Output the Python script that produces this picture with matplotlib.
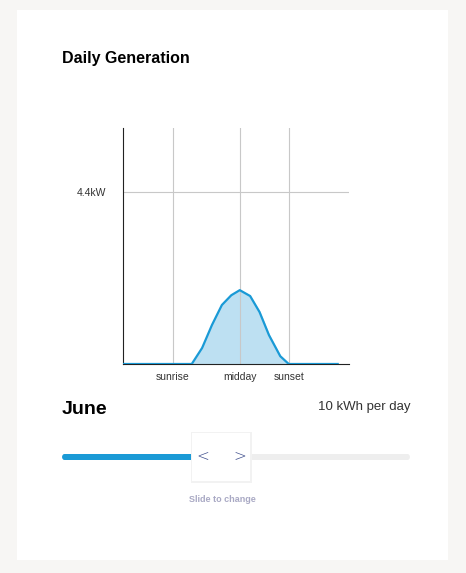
import matplotlib.pyplot as plt
from matplotlib.patches import Rectangle, FancyBboxPatch

plt.rcParams['font.family'] = ['Liberation Sans', 'DejaVu Sans']

# hours of day vs generated power (kW)
hours = [0, 7.3, 8.4, 9.45, 10.5, 11.5, 12.4, 13.5, 14.5, 15.5, 16.7, 17.6, 22.8]
power = [0, 0, 0.41, 1.0, 1.51, 1.76, 1.89, 1.74, 1.33, 0.74, 0.2, 0, 0]
tick_pos = [5.3, 12.4, 17.6]
tick_labels = ['sunrise', 'midday', 'sunset']
month = 'June'
daily_kwh = 10
slider_frac = 0.38

W, H = 466, 573
fig = plt.figure(figsize=(W / 100, H / 100), dpi=100)
fig.patch.set_facecolor('#f7f6f4')

def fx(x):
    return x / W

def fy(y):
    return 1 - y / H

# white card
fig.patches.append(Rectangle((fx(17), fy(560)), fx(448 - 17), (560 - 10) / H,
                             transform=fig.transFigure, facecolor='white', edgecolor='none',
                             zorder=0))

fig.text(fx(62), fy(58), 'Daily Generation', fontsize=11.5, fontweight='bold', va='center')

ax = fig.add_axes([fx(123), fy(364), fx(349 - 123), (364 - 128) / H])
ax.set_zorder(5)
ax.set_facecolor('white')
ax.set_xlim(0, 24)
ax.set_ylim(0, 6.04)
ax.fill_between(hours, power, color='#bde0f2', zorder=1)
ax.plot(hours, power, color='#1a9ad6', lw=1.6, zorder=3)
for t in tick_pos:
    ax.axvline(t, color='#c8c8c8', lw=0.8, zorder=2)
ax.axhline(4.4, color='#c8c8c8', lw=0.8, zorder=2)
ax.set_xticks(tick_pos)
ax.set_xticklabels(tick_labels, fontsize=7.5, color='#333333')
ax.set_yticks([4.4])
ax.set_yticklabels(['4.4kW'], fontsize=7.5, color='#333333')
ax.tick_params(length=0, pad=6)
ax.tick_params(axis='y', pad=12)
for s in ['top', 'right']:
    ax.spines[s].set_visible(False)
for s in ['left', 'bottom']:
    ax.spines[s].set_color('#222222')
    ax.spines[s].set_linewidth(0.8)

fig.text(fx(62), fy(409), month, fontsize=14, fontweight='bold', va='center')
fig.text(fx(410), fy(407), f'{daily_kwh} kWh per day', fontsize=9.5, color='#333333',
         va='center', ha='right')

# slider
x0, x1 = 62, 410
xk = x0 + slider_frac * (x1 - x0)
fig.patches.append(FancyBboxPatch((fx(x0), fy(460)), fx(x1 - x0), 6 / H,
                                  boxstyle='round,pad=0,rounding_size=0.006',
                                  transform=fig.transFigure, facecolor='#eeeeee', edgecolor='none'))
fig.patches.append(FancyBboxPatch((fx(x0), fy(460)), fx(xk - x0), 6 / H,
                                  boxstyle='round,pad=0,rounding_size=0.006',
                                  transform=fig.transFigure, facecolor='#1a9ad6', edgecolor='none'))
fig.patches.append(Rectangle((fx(xk - 3.5), fy(482.5)), fx(61), 51 / H,
                             transform=fig.transFigure, facecolor='#f2f2f2', edgecolor='none'))
fig.patches.append(Rectangle((fx(xk - 2), fy(481)), fx(58), 48 / H,
                             transform=fig.transFigure, facecolor='white', edgecolor='none'))
fig.text(fx(xk + 9), fy(457), '<', fontsize=11, color='#3a4a8a', ha='center', va='center',
         family='DejaVu Sans', fontweight='light')
fig.text(fx(xk + 46), fy(457), '>', fontsize=11, color='#3a4a8a', ha='center', va='center',
         family='DejaVu Sans', fontweight='light')
fig.text(fx(222), fy(499), 'Slide to change', fontsize=6.5, color='#a9a9c4',
         fontweight='bold', ha='center', va='center')

fig.savefig('out.png', dpi=100, facecolor=fig.get_facecolor())
